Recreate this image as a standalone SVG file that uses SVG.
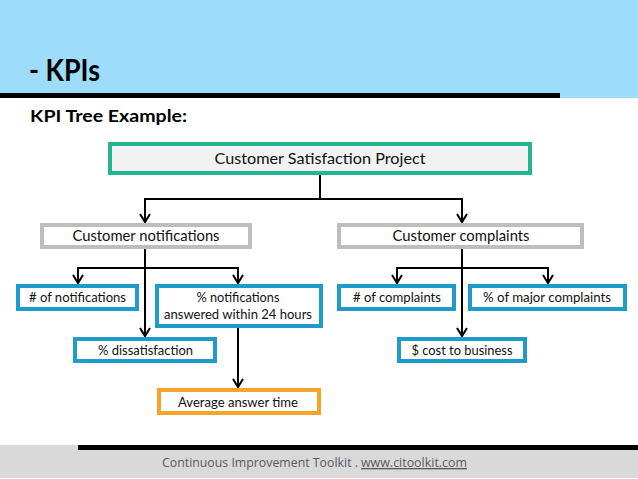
<svg xmlns="http://www.w3.org/2000/svg" width="638" height="479" viewBox="0 0 638 479">
<style>
.t{font-family:Lato,"Open Sans","Liberation Sans",sans-serif;fill:#111;text-anchor:middle;font-size:14px}
.big{font-size:15px}
.box{stroke-width:4}
.teal{stroke:#22B792;fill:#F2F2F2}
.gray{stroke:#BEBEBE;fill:#fff}
.blue{stroke:#1E9BCA;fill:#fff}
.orange{stroke:#F4A42B;fill:#fff}
.c{fill:none;stroke:#000;stroke-width:2}
</style>
<defs>
<marker id="ah" markerUnits="userSpaceOnUse" markerWidth="14" markerHeight="14" viewBox="-10 -7 12 14" refX="0" refY="0" orient="auto">
<path d="M-8,-5 L0,0 L-8,5" fill="none" stroke="#000" stroke-width="2"/>
</marker>
</defs>
<rect x="0" y="0" width="638" height="98" fill="#9DDCFB"/>
<rect x="0" y="93" width="560" height="5" fill="#000"/>
<text x="29" y="81" font-family="Lato,'Open Sans',sans-serif" font-weight="bold" font-size="30" textLength="71" lengthAdjust="spacingAndGlyphs" fill="#000">- KPIs</text>
<text x="30" y="122" font-family="Lato,'Open Sans',sans-serif" font-weight="bold" font-size="17.5" textLength="157" lengthAdjust="spacingAndGlyphs" fill="#000">KPI Tree Example:</text>
<rect x="0" y="445" width="638" height="33" fill="#D9D9D9"/>
<rect x="78" y="445" width="560" height="5" fill="#000"/>
<text x="162" y="467" font-family="'Open Sans',sans-serif" font-size="13" fill="#595959" textLength="196" lengthAdjust="spacingAndGlyphs">Continuous Improvement Toolkit .</text>
<text x="361" y="467" font-family="'Open Sans',sans-serif" font-size="13" fill="#595959" textLength="106" lengthAdjust="spacingAndGlyphs" text-decoration="underline">www.citoolkit.com</text>
<g id="connectors">
<path class="c" d="M320,175 V199 H145 V222" marker-end="url(#ah)"/>
<path class="c" d="M320,199 H462 V222" marker-end="url(#ah)"/>
<path class="c" d="M145,249 V336" marker-end="url(#ah)"/>
<path class="c" d="M145,268 H78 V283" marker-end="url(#ah)"/>
<path class="c" d="M145,268 H238 V283" marker-end="url(#ah)"/>
<path class="c" d="M238,328 V387" marker-end="url(#ah)"/>
<path class="c" d="M462,249 V336" marker-end="url(#ah)"/>
<path class="c" d="M462,268 H397 V283" marker-end="url(#ah)"/>
<path class="c" d="M462,268 H548 V283" marker-end="url(#ah)"/>
</g>
<g id="n_root"><rect class="box teal" x="110" y="144" width="420" height="29"/><text class="t big" x="320" y="164" textLength="211" lengthAdjust="spacingAndGlyphs">Customer Satisfaction Project</text></g>
<g id="n_notifications"><rect class="box gray" x="42" y="225" width="208" height="22"/><text class="t big" x="146" y="241" textLength="147" lengthAdjust="spacingAndGlyphs">Customer notifications</text></g>
<g id="n_complaints"><rect class="box gray" x="339" y="225" width="243" height="22"/><text class="t big" x="461" y="241" textLength="137" lengthAdjust="spacingAndGlyphs">Customer complaints</text></g>
<g id="n_num_notif"><rect class="box blue" x="18" y="286" width="119" height="23"/><text class="t" x="77.5" y="302" textLength="97" lengthAdjust="spacingAndGlyphs"># of notifications</text></g>
<g id="n_pct_notif"><rect class="box blue" x="157" y="286" width="164" height="40"/><text class="t" x="238" y="302" textLength="83" lengthAdjust="spacingAndGlyphs">% notifications</text><text class="t" x="238" y="319" textLength="148" lengthAdjust="spacingAndGlyphs">answered within 24 hours</text></g>
<g id="n_num_compl"><rect class="box blue" x="339" y="286" width="115" height="23"/><text class="t" x="397" y="302" textLength="88" lengthAdjust="spacingAndGlyphs"># of complaints</text></g>
<g id="n_major"><rect class="box blue" x="470" y="286" width="155" height="23"/><text class="t" x="547" y="302" textLength="128" lengthAdjust="spacingAndGlyphs">% of major complaints</text></g>
<g id="n_dissat"><rect class="box blue" x="75" y="339" width="140" height="22"/><text class="t" x="145.5" y="355" textLength="95" lengthAdjust="spacingAndGlyphs">% dissatisfaction</text></g>
<g id="n_cost"><rect class="box blue" x="399" y="339" width="126" height="22"/><text class="t" x="462" y="355" textLength="101" lengthAdjust="spacingAndGlyphs">$ cost to business</text></g>
<g id="n_avg"><rect class="box orange" x="159" y="390" width="160" height="23"/><text class="t" x="238" y="407" textLength="120" lengthAdjust="spacingAndGlyphs">Average answer time</text></g>
</svg>
